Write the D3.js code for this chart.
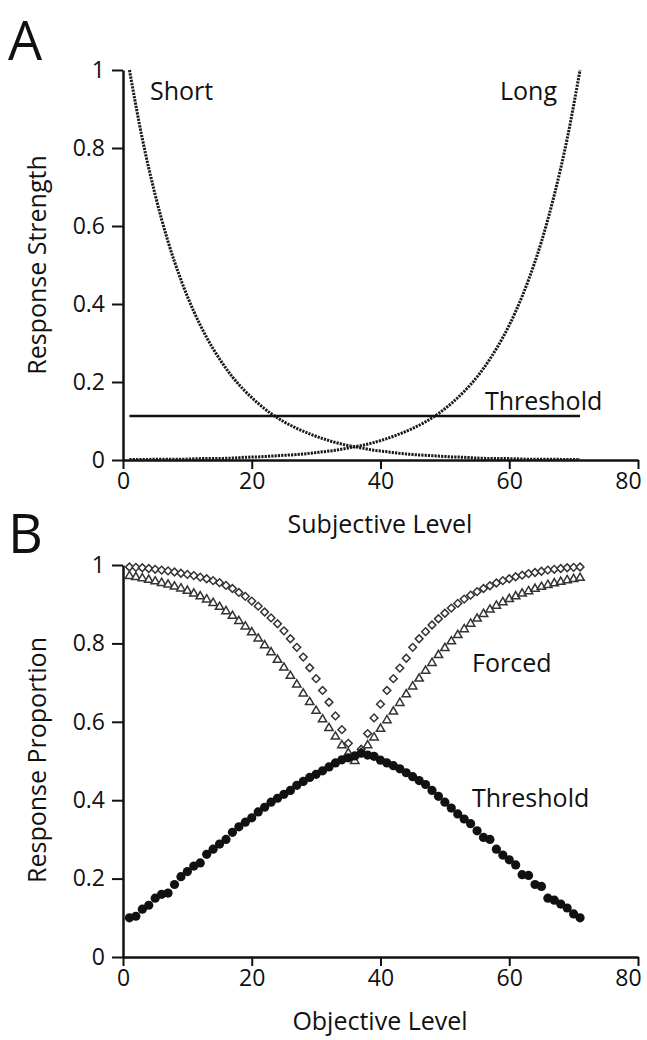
<!DOCTYPE html>
<html>
<head>
<meta charset="utf-8">
<script src="https://cdn.jsdelivr.net/npm/d3@7"></script>
<style>
  body { margin: 0; background: #fff; }
  svg text { font-family: "Open Sans", sans-serif; fill: #111; }
</style>
</head>
<body>
<div id="chart"></div>
<script>
// Panel A: response strength curves
const subjLevels = [1,3,5,7,9,11,13,15,17,19,21,23,25,27,29,31,33,35,37,39,41,43,45,47,49,51,53,55,57,59,61,63,65,67,69,71];
const shortStrength = [1.0,0.824,0.68,0.56,0.462,0.381,0.314,0.259,0.213,0.176,0.145,0.119,0.098,0.081,0.067,0.055,0.045,0.037,0.031,0.025,0.021,0.017,0.014,0.012,0.01,0.008,0.007,0.005,0.004,0.004,0.003,0.002,0.002,0.002,0.001,0.001];
const longStrength = [0.001,0.001,0.002,0.002,0.002,0.003,0.004,0.004,0.005,0.007,0.008,0.01,0.012,0.014,0.017,0.021,0.025,0.031,0.037,0.045,0.055,0.067,0.081,0.098,0.119,0.145,0.176,0.213,0.259,0.314,0.381,0.462,0.56,0.68,0.824,1.0];
const thresholdA = [[1, 0.113], [71, 0.113]];

// Panel B: response proportions at objective levels 1..71
const objLevels = d3.range(1, 72);
const forcedDiamond = [0.995,0.994,0.993,0.991,0.989,0.987,0.985,0.982,0.979,0.976,0.973,0.969,0.965,0.96,0.955,0.948,0.94,0.93,0.92,0.908,0.895,0.88,0.865,0.85,0.832,0.812,0.79,0.765,0.738,0.71,0.68,0.65,0.615,0.58,0.545,0.51,0.53,0.57,0.61,0.645,0.68,0.71,0.737,0.762,0.79,0.812,0.83,0.847,0.863,0.877,0.89,0.902,0.913,0.923,0.932,0.94,0.947,0.954,0.96,0.965,0.97,0.974,0.978,0.981,0.984,0.987,0.989,0.991,0.993,0.994,0.995];
const forcedTriangle = [0.972,0.969,0.966,0.962,0.958,0.954,0.95,0.945,0.94,0.934,0.927,0.92,0.912,0.903,0.893,0.882,0.87,0.857,0.843,0.828,0.812,0.795,0.777,0.758,0.738,0.717,0.695,0.672,0.65,0.628,0.606,0.584,0.562,0.54,0.52,0.5,0.52,0.54,0.56,0.582,0.604,0.626,0.648,0.67,0.69,0.71,0.73,0.75,0.77,0.788,0.805,0.821,0.836,0.85,0.863,0.875,0.886,0.896,0.905,0.913,0.92,0.927,0.933,0.939,0.944,0.949,0.953,0.957,0.961,0.964,0.967];
const thresholdB = [0.1,0.104,0.122,0.132,0.15,0.16,0.163,0.185,0.205,0.218,0.232,0.24,0.262,0.275,0.288,0.3,0.318,0.332,0.344,0.355,0.37,0.382,0.395,0.405,0.415,0.425,0.438,0.448,0.458,0.466,0.475,0.485,0.495,0.503,0.508,0.513,0.52,0.515,0.512,0.502,0.495,0.488,0.48,0.47,0.46,0.45,0.44,0.425,0.41,0.395,0.38,0.365,0.352,0.34,0.322,0.305,0.3,0.275,0.26,0.248,0.235,0.21,0.208,0.185,0.18,0.15,0.145,0.135,0.125,0.11,0.1];

const xTicks = [0, 20, 40, 60, 80];
const yTicks = [0, 0.2, 0.4, 0.6, 0.8, 1];

const width = 647, height = 1040;
const svg = d3.select('#chart').append('svg')
    .attr('width', width)
    .attr('height', height);

const x = d3.scaleLinear().domain([0, 80]).range([123, 638]);
const yA = d3.scaleLinear().domain([0, 1]).range([460, 70]);
const yB = d3.scaleLinear().domain([0, 1]).range([957, 565]);

// draws both axes for a panel
function drawAxes(y) {
    const gy = svg.append('g')
        .attr('transform', `translate(${x(0)},0)`)
        .call(d3.axisLeft(y).tickValues(yTicks).tickFormat(d3.format('~g')).tickSize(11).tickSizeOuter(0).tickPadding(7));
    const gx = svg.append('g')
        .attr('transform', `translate(0,${y(0)})`)
        .call(d3.axisBottom(x).tickValues(xTicks).tickSize(9).tickSizeOuter(0).tickPadding(4));
    [gx, gy].forEach(g => {
        g.select('.domain').attr('stroke', '#111').attr('stroke-width', 2.5);
        g.selectAll('.tick line').attr('stroke', '#111').attr('stroke-width', 2);
        g.selectAll('.tick text').attr('font-size', 23).attr('fill', '#111')
            .style('font-family', '"Open Sans", sans-serif');
    });
    // last label sits a little left of its tick so it stays inside the page
    gx.selectAll('.tick text').filter(d => d === 80).attr('dx', -10);
}

// ---- Panel A ----
drawAxes(yA);

const lineA = d3.line()
    .x(d => x(d[0]))
    .y(d => yA(d[1]))
    .curve(d3.curveMonotoneX);

[shortStrength, longStrength].forEach(vals => {
    svg.append('path')
        .datum(subjLevels.map((lv, i) => [lv, vals[i]]))
        .attr('d', lineA)
        .attr('fill', 'none')
        .attr('stroke', '#1a1a1a')
        .attr('stroke-width', 3)
        .attr('stroke-dasharray', '2.2,1.1');
});

svg.append('path')
    .datum(thresholdA)
    .attr('d', d3.line().x(d => x(d[0])).y(d => yA(d[1])))
    .attr('stroke', '#111')
    .attr('stroke-width', 2.6);

svg.append('text').attr('x', 8).attr('y', 60).attr('font-size', 54).text('A');
svg.append('text').attr('x', 150).attr('y', 100).attr('font-size', 25).text('Short');
svg.append('text').attr('x', 500).attr('y', 100).attr('font-size', 25).text('Long');
svg.append('text').attr('x', 485).attr('y', 410).attr('font-size', 25).text('Threshold');
svg.append('text').attr('x', 380).attr('y', 533).attr('font-size', 25)
    .attr('text-anchor', 'middle').text('Subjective Level');
svg.append('text').attr('transform', 'translate(46,265) rotate(-90)').attr('font-size', 25)
    .attr('text-anchor', 'middle').text('Response Strength');

// ---- Panel B ----
drawAxes(yB);

const diamond = d3.symbol().type(d3.symbolSquare).size(30);
const triangle = d3.symbol().type(d3.symbolTriangle).size(30);

svg.append('g').selectAll('path')
    .data(objLevels.map((lv, i) => [lv, forcedDiamond[i]]))
    .join('path')
    .attr('d', diamond)
    .attr('transform', d => `translate(${x(d[0])},${yB(d[1])}) rotate(45)`)
    .attr('fill', '#fff')
    .attr('stroke', '#333')
    .attr('stroke-width', 1.5);

svg.append('g').selectAll('path')
    .data(objLevels.map((lv, i) => [lv, forcedTriangle[i]]))
    .join('path')
    .attr('d', triangle)
    .attr('transform', d => `translate(${x(d[0])},${yB(d[1])})`)
    .attr('fill', '#fff')
    .attr('stroke', '#333')
    .attr('stroke-width', 1.5);

svg.append('g').selectAll('circle')
    .data(objLevels.map((lv, i) => [lv, thresholdB[i]]))
    .join('circle')
    .attr('cx', d => x(d[0]))
    .attr('cy', d => yB(d[1]))
    .attr('r', 4.6)
    .attr('fill', '#111');

svg.append('text').attr('x', 8).attr('y', 553).attr('font-size', 54).text('B');
svg.append('text').attr('x', 472).attr('y', 672).attr('font-size', 25).text('Forced');
svg.append('text').attr('x', 472).attr('y', 807).attr('font-size', 25).text('Threshold');
svg.append('text').attr('x', 380).attr('y', 1030).attr('font-size', 25)
    .attr('text-anchor', 'middle').text('Objective Level');
svg.append('text').attr('transform', 'translate(46,760) rotate(-90)').attr('font-size', 25)
    .attr('text-anchor', 'middle').text('Response Proportion');
</script>
</body>
</html>
